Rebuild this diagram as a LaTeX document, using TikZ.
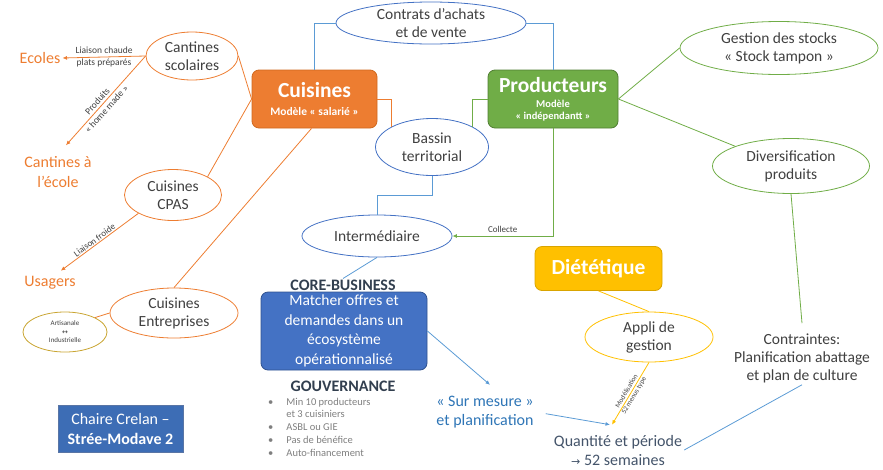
\documentclass[tikz,border=0pt]{standalone}
\usepackage{fontspec}
\setmainfont{Carlito}
\newfontfamily\symfont{DejaVu Sans}
\usetikzlibrary{shapes.geometric,arrows.meta}

\definecolor{txt}{HTML}{404040}
\definecolor{orline}{HTML}{ED7D31}
\definecolor{ordark}{HTML}{D0691F}
\definecolor{grline}{HTML}{70AD47}
\definecolor{grdark}{HTML}{507E32}
\definecolor{blline}{HTML}{5B9BD5}
\definecolor{bldark}{HTML}{4472C4}
\definecolor{boxblue}{HTML}{4472C4}
\definecolor{boxbluedark}{HTML}{2F528F}
\definecolor{chaireblue}{HTML}{3D6DB5}
\definecolor{gold}{HTML}{FFC000}
\definecolor{golddark}{HTML}{D9A400}
\definecolor{olive}{HTML}{C9A532}
\definecolor{navy}{HTML}{323F4F}
\definecolor{surblue}{HTML}{2E75B6}
\definecolor{quant}{HTML}{44546A}
\definecolor{listgray}{HTML}{7F7F7F}

\newcommand{\fsmain}{\fontsize{15.5}{18}\selectfont}
\newcommand{\fstitle}{\fontsize{21.5}{24}\selectfont\bfseries}
\newcommand{\fssub}{\fontsize{11.5}{13}\selectfont\bfseries}
\newcommand{\fssmall}{\fontsize{9.5}{12}\selectfont}
\newcommand{\fstiny}{\fontsize{7}{8.5}\selectfont}
\newcommand{\fslist}{\fontsize{10.5}{12.8}\selectfont}

\tikzset{
  ell/.style={ellipse, draw, inner sep=0pt, align=center, font=\fsmain, text=txt, line width=0.8pt},
  box/.style={rectangle, rounded corners=7pt, draw, line width=0.8pt, align=center, text=white, inner sep=2pt},
  lbl/.style={align=center, inner sep=2pt},
  oline/.style={draw=orline, line width=0.8pt},
  gline/.style={draw=grline, line width=0.8pt},
  bline/.style={draw=blline, line width=0.8pt},
  yline/.style={draw=gold, line width=0.8pt},
  >={Latex[length=4.5pt,width=4pt]}
}

\begin{document}
\begin{tikzpicture}[x=1pt,y=-1pt]
\useasboundingbox (0,0) rectangle (883,469);

% ellipses
\node[ell, draw=bldark, minimum width=190pt, minimum height=42pt] (contrats) at (431,23) {Contrats d'achats\\et de vente};
\node[ell, draw=bldark, minimum width=113pt, minimum height=57pt] (bassin) at (432,147) {Bassin\\territorial};
\node[ell, draw=bldark, minimum width=150pt, minimum height=42pt] (inter) at (377,236) {Intermédiaire};
\node[ell, draw=orline, minimum width=92pt, minimum height=48pt] (cantines) at (192,56) {Cantines\\scolaires};
\node[ell, draw=orline, minimum width=97pt, minimum height=51pt] (cpas) at (173,195) {Cuisines\\CPAS};
\node[ell, draw=orline, minimum width=128pt, minimum height=50pt] (entreprises) at (174,313) {Cuisines\\Entreprises};
\node[ell, draw=olive, minimum width=84pt, minimum height=40pt, font=\fstiny] (artisanal) at (65,332) {Artisanale\\{\symfont ↔}\\Industrielle};
\node[ell, draw=grline, minimum width=198pt, minimum height=53pt] (gestion) at (779,48) {Gestion des stocks\\«~Stock tampon~»};
\node[ell, draw=grline, minimum width=157pt, minimum height=55pt] (divers) at (791,166) {Diversification\\produits};
\node[ell, draw=gold, minimum width=128pt, minimum height=50pt] (appli) at (649,337) {Appli de\\gestion};

% boxes
\node[box, fill=orline, draw=ordark, minimum width=125pt, minimum height=58pt, font=\fssub] (cuisines) at (314.5,99) {{\fstitle Cuisines}\\[5pt]Modèle «~salarié~»};
\node[box, fill=grline, draw=grdark, minimum width=130pt, minimum height=58pt, font=\fontsize{10.5}{12}\selectfont\bfseries] (producteurs) at (553,99) {{\fstitle Producteurs}\\[3pt]Modèle\\«~indépendantt~»};
\node[box, fill=gold, draw=golddark, minimum width=127pt, minimum height=44pt, font=\fstitle] (diet) at (598.5,268.5) {Diététique};
\node[lbl, font=\fontsize{16}{18}\selectfont\bfseries, text=navy, inner sep=1pt] (core) at (343,285) {CORE-BUSINESS};
\node[box, fill=boxblue, draw=boxbluedark, minimum width=166pt, minimum height=78pt, font=\fontsize{15.5}{19.5}\selectfont] (matcher) at (344,331) {Matcher offres et\\demandes dans un\\écosystème\\opérationnalisé};
\node[box, rounded corners=0pt, fill=chaireblue, draw=boxbluedark!80, minimum width=125pt, minimum height=47pt, font=\fontsize{16}{20}\selectfont] (chaire) at (120.5,428.5) {Chaire Crelan –\\\textbf{Strée-Modave 2}};

% plain texts
\node[lbl, font=\fontsize{16}{18}\selectfont\bfseries, text=navy] (gouv) at (343,386) {GOUVERNANCE};
\node[anchor=north west, inner sep=0pt, font=\fslist, text=listgray] (liste) at (268,396) {%
  \begin{tabular}{@{}l@{\hspace{13pt}}l@{}}
  • & Min 10 producteurs\\
    & et 3 cuisiniers\\
  • & ASBL ou GIE\\
  • & Pas de bénéfice\\
  • & Auto-financement
  \end{tabular}};
\node[lbl, font=\fontsize{16}{19}\selectfont, text=surblue] (surmesure) at (485,412) {«~Sur mesure~»\\et planification};
\node[lbl, font=\fontsize{16}{19}\selectfont, text=quant] (quantite) at (618,450) {Quantité et période\\{\symfont\fontsize{11}{11}\selectfont →} 52 semaines};
\node[lbl, font=\fsmain, text=txt] (contraintes) at (802,358) {Contraintes:\\Planification abattage\\et plan de culture};
\node[lbl, font=\fontsize{16}{18}\selectfont, text=orline] (ecoles) at (40,58) {Ecoles};
\node[lbl, font=\fontsize{16}{20}\selectfont, text=orline] (ecole) at (58,172) {Cantines à\\l'école};
\node[lbl, font=\fontsize{16}{18}\selectfont, text=orline] (usagers) at (50,283) {Usagers};

% connectors
\draw[bline] (cuisines.north) |- (contrats.west);
\draw[bline] (contrats.east) -| (producteurs.north);
\draw[oline] (cuisines.east) -| (bassin.north west);
\draw[gline] (producteurs.west) -| (bassin.north east);
\draw[bline] (bassin.south) -- ++(0,19) -| (inter.north);
\draw[gline,->] (producteurs.south) |- node[pos=0.75, above, font=\fontsize{9}{10}\selectfont, text=txt] (collecte) {Collecte} (inter.east);
\draw[bline] (inter.south) -- (core.north);
\draw[bline,->] (matcher.east) -- ([xshift=5pt,yshift=9pt]surmesure.north);
\draw[bline,->,shorten <=10pt] (surmesure.east) -- ([xshift=-8pt,yshift=8pt]quantite.north);
\draw[yline,->] (appli.south) -- node[sloped, lbl, font=\fstiny, text=txt, inner sep=0pt] (modelisation) {Modélisation\\52 menus type} ([xshift=-6pt,yshift=8pt]quantite.north);
\draw[bline] (quantite.east) -- (contraintes.south);
\draw[gline] (divers.south) -- ([yshift=8pt]contraintes.north);
\draw[gline] (producteurs.east) -- (gestion.west);
\draw[gline] (producteurs.east) -- (divers.north west);
\draw[yline] (diet.south) -- (appli.north);

\draw[oline] (cuisines.west) -- (cantines.east);
\draw[oline] (cuisines.west) -- (cpas.north east);
\draw[oline] ([xshift=-3pt]cuisines.south) -- (entreprises.north);
\draw[oline] (artisanal.north east) -- (entreprises.west);
\draw[oline,->] (cantines.west) -- node[lbl, font=\fssmall, text=txt, inner sep=0pt] (chaude) {Liaison chaude\\plats préparés} (ecoles.east);
\draw[oline,->,shorten >=12pt] (cantines.west) -- node[sloped, lbl, font=\fssmall, text=txt, inner sep=0pt] (homemade) {Produits\\«~home made~»} (ecole.north);
\draw[oline,->,shorten >=6pt] (cpas.south west) -- node[sloped, above, font=\fontsize{9}{10}\selectfont, text=txt, inner sep=1pt] (froide) {Liaison froide} ([xshift=6pt]usagers.north);

\end{tikzpicture}
\end{document}
